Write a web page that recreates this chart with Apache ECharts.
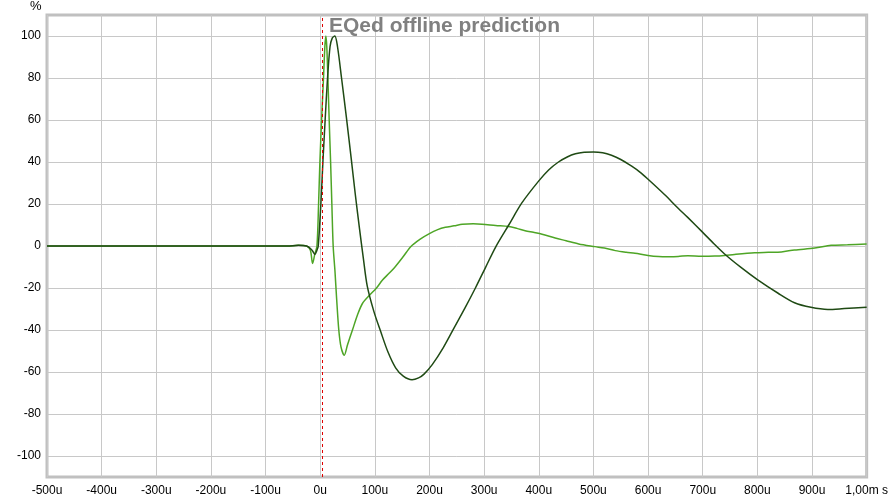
<!DOCTYPE html>
<html>
<head>
<meta charset="utf-8">
<script src="https://cdn.jsdelivr.net/npm/echarts@6/dist/echarts.min.js"></script>
<style>
html,body{margin:0;padding:0;background:#fff;}
#c{width:891px;height:499px;}
</style>
</head>
<body>
<div id="c"></div>
<script>
// time in microseconds, values in %
const lightT = [-500,-60,-40,-25,-18,-14,-10,-6,-3,-0.6,2.5,6,8.5,10.3,12,14,16.4,19,21.3,23.7,27,30,34,38,44,50,59,68,77,90,103,114,126,138,152,166,183,199,215,229,245,260,280,296,321,345,360,375,390,406,430,450,473,503,520,540,560,576,600,619,637,655,673,698,722,740,758,795,820,844,868,905,935,965,1000];
const lightV = [0,0,0.3,0,-2,-8.3,-4,0,20,40,60,80,95,100,95,80,60,40,20,0,-12,-25,-40,-48,-52,-47,-40,-33,-27.5,-23.5,-20,-16.2,-13,-9.6,-5,-0.2,3.3,5.8,7.8,8.9,9.6,10.4,10.6,10.4,9.8,9.3,8.4,7.3,6.5,5.6,3.8,2.5,1,-0.3,-1,-2.2,-3,-3.5,-4.5,-5,-5.1,-5,-4.6,-4.9,-4.8,-4.5,-4,-3.2,-3,-2.8,-1.9,-1,0.3,0.6,1];
const darkT = [-500,-60,-40,-25,-15,-9.7,-6,-3.6,1.2,4.9,9,13.4,18,22,26.7,31.6,39,48,57,64,72,79,86,98,111,124,138,152,168,180,190,205,225,245,265,284,302,321,345,369,400,418,436,452,467,483,500,517,533,550,570,585,599,630,655,673,700,720,740,770,800,838,868,898,929,959,1000];
const darkV = [0,0,0.3,0,-2,-4,-2,0,20,40,60,80,95,99,100,95,80,61,41,25,8,-6,-19,-31,-41,-50.5,-58,-62,-63.7,-62.8,-61,-56.5,-48.5,-39,-29.5,-20,-10.5,-0.5,10,20.5,31,36.2,40,42.4,43.9,44.6,44.8,44.4,43.2,41.2,38,35.2,32,24.5,18,13.5,6.5,1.2,-3.8,-10.2,-16,-22.5,-27,-29.2,-30.2,-29.8,-29.2];
const yTicks = [-100,-80,-60,-40,-20,0,20,40,60,80,100];
const markerT = 4;
const titleText = 'EQed offline prediction';

const zip = (a, b) => a.map((v, i) => [v, b[i]]);
const chart = echarts.init(document.getElementById('c'), null, {renderer: 'canvas'});
const font = 'Liberation Sans, Arial, sans-serif';
chart.setOption({
  animation: false,
  backgroundColor: '#ffffff',
  title: {
    text: titleText, left: 329, top: 16, padding: 0,
    textStyle: {fontFamily: font, fontSize: 21, fontWeight: 'bold', color: '#808080'}
  },
  graphic: [{
    type: 'text', left: 30, top: 0,
    style: {text: '%', font: '13px ' + font, fill: '#000'}
  }],
  grid: {left: 47, right: 22, top: 15, bottom: 22, show: true, borderColor: '#c0c0c0', borderWidth: 3, containLabel: false},
  xAxis: {
    type: 'value', min: -500, max: 1000, interval: 100,
    axisLine: {show: false}, axisTick: {show: false},
    axisLabel: {
      color: '#000', fontFamily: font, fontSize: 12, margin: 8,
      formatter: v => v === 1000 ? '1,00m s' : v + 'u'
    },
    splitLine: {show: true, lineStyle: {color: '#c8c8c8', width: 1}}
  },
  yAxis: {
    type: 'value', min: -110, max: 110,
    axisLine: {show: false},
    axisTick: {show: false, customValues: yTicks},
    axisLabel: {color: '#000', fontFamily: font, fontSize: 12, margin: 6, customValues: yTicks},
    splitLine: {show: true, lineStyle: {color: '#c8c8c8', width: 1}}
  },
  series: [
    {
      name: 'light', type: 'line', data: zip(lightT, lightV), showSymbol: false, symbol: 'none',
      smooth: 0.3, lineStyle: {color: '#4ea526', width: 1.5}, z: 3
    },
    {
      name: 'dark', type: 'line', data: zip(darkT, darkV), showSymbol: false, symbol: 'none',
      smooth: 0.3, lineStyle: {color: '#1f4a14', width: 1.5}, z: 4,
      markLine: {
        silent: true, symbol: ['none', 'none'], label: {show: false},
        lineStyle: {color: '#e00000', type: [3, 3], width: 1},
        data: [{xAxis: markerT}]
      }
    }
  ]
});
</script>
</body>
</html>
